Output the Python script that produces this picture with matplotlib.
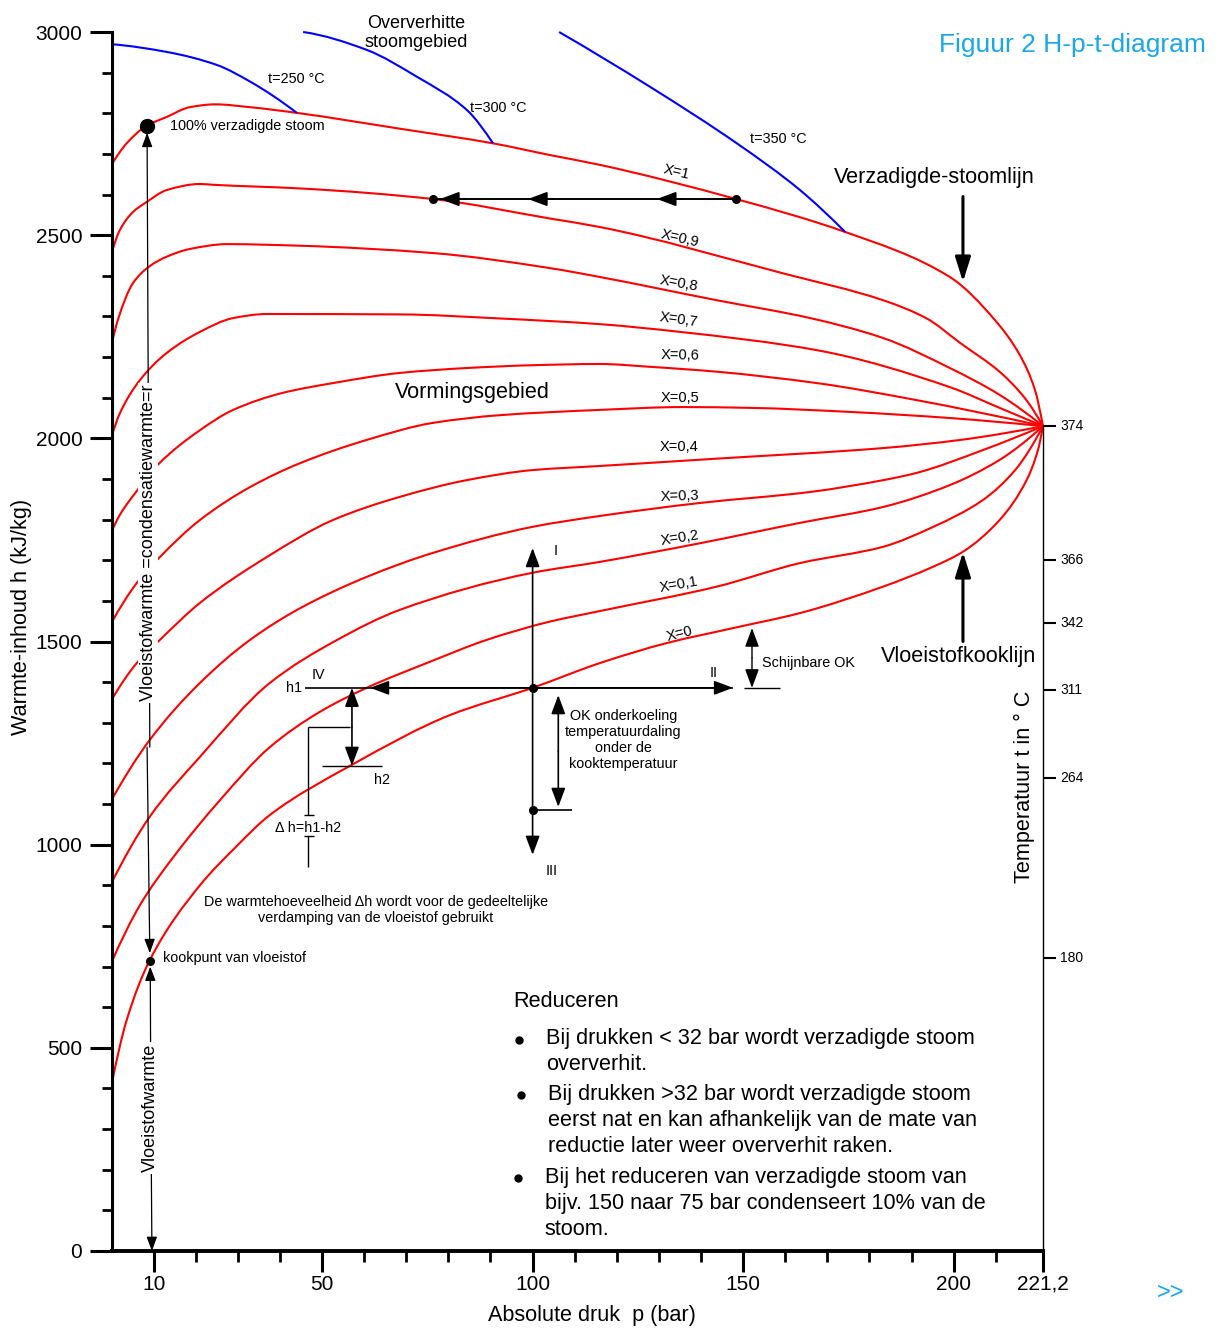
import numpy as np
import matplotlib
matplotlib.use('Agg')
import matplotlib.pyplot as plt
from matplotlib.path import Path
from matplotlib.patches import PathPatch

plt.rcParams['font.family'] = ['Liberation Sans', 'DejaVu Sans']

# ---------------- data (pressure in bar, enthalpy in kJ/kg) ----------------
X10_p = [0, 3.6, 8.3, 13.1, 18.6, 24.6, 32.9, 44.0, 68.5, 90.6, 104.2, 116.0, 148.3, 174.2, 199.1, 209.8, 215.7, 219.3, 221.2]
X10_h = [2673, 2726, 2769, 2791, 2815, 2822, 2815, 2801, 2762, 2726, 2697, 2673, 2589, 2508, 2397, 2291, 2205, 2119, 2030]

X09_p = [0, 2.0, 5.1, 8.4, 13.1, 21.0, 24.1, 44.8, 76.3, 104.1, 116.0, 159.5, 183.2, 193.6, 201.5, 211.0, 216.9, 221.2]
X09_h = [2455, 2513, 2557, 2582, 2611, 2626, 2624, 2615, 2589, 2541, 2520, 2406, 2340, 2295, 2235, 2163, 2099, 2030]

X08_p = [0, 1.5, 5.1, 9.1, 13.1, 18.6, 27.4, 44.8, 76.3, 104.1, 116.0, 143.7, 165.9, 183.2, 199.1, 210.9, 221.2]
X08_h = [2230, 2291, 2382, 2424, 2447, 2466, 2478, 2474, 2456, 2419, 2397, 2340, 2296, 2247, 2173, 2107, 2030]

X07_p = [0, 2.0, 6.8, 13.1, 21.0, 28.9, 36.9, 68.5, 92.2, 116.0, 135.0, 167.5, 199.1, 210.9, 221.2]
X07_h = [2004, 2062, 2144, 2210, 2262, 2296, 2306, 2305, 2295, 2281, 2262, 2217, 2126, 2075, 2030]

X06_p = [0, 2.0, 5.9, 11.0, 21.0, 28.9, 40.7, 52.6, 68.5, 84.3, 100.1, 116.0, 127.9, 143.7, 167.5, 191.2, 221.2]
X06_h = [1770, 1812, 1869, 1935, 2020, 2070, 2112, 2136, 2161, 2173, 2180, 2183, 2176, 2164, 2136, 2094, 2030]

X05_p = [0, 6.0, 11.5, 21.0, 32.9, 44.8, 60.6, 76.3, 92.2, 116.0, 135.7, 151.6, 175.4, 199.1, 221.2]
X05_h = [1546, 1644, 1708, 1799, 1880, 1939, 1996, 2038, 2057, 2070, 2077, 2075, 2065, 2050, 2030]

X04_p = [0, 6.0, 11.5, 21.0, 36.9, 52.6, 68.5, 84.3, 100.1, 116.0, 143.7, 183.2, 201.5, 221.2]
X04_h = [1356, 1447, 1504, 1595, 1708, 1799, 1856, 1897, 1922, 1932, 1950, 1976, 1996, 2030]

X03_p = [0, 9.1, 21.0, 32.9, 44.8, 60.6, 76.3, 99.9, 116.0, 139.8, 165.9, 183.2, 191.2, 206.9, 221.2]
X03_h = [1110, 1258, 1398, 1504, 1582, 1659, 1718, 1782, 1809, 1841, 1868, 1897, 1915, 1971, 2030]

X02_p = [0, 9.1, 21.0, 37.6, 53.6, 68.5, 99.9, 116.0, 139.8, 163.5, 183.2, 199.1, 210.9, 221.2]
X02_h = [906, 1069, 1216, 1398, 1504, 1578, 1669, 1696, 1742, 1792, 1831, 1885, 1947, 2030]

X01_p = [0, 6.8, 15.1, 25.8, 37.6, 49.5, 60.6, 75.6, 89.1, 104.1, 116.0, 143.7, 163.5, 183.2, 195.1, 206.9, 214.6, 221.2]
X01_h = [710, 852, 975, 1110, 1240, 1327, 1386, 1450, 1504, 1549, 1575, 1635, 1693, 1733, 1782, 1848, 1922, 2030]

X00_p = [0, 3.6, 9.1, 21.0, 29.3, 37.6, 57.0, 80.4, 100.0, 116.0, 131.8, 147.6, 163.5, 183.2, 195.1, 202.2, 210.9, 217.3, 220.0, 221.2]
X00_h = [409, 568, 716, 900, 992, 1073, 1196, 1319, 1386, 1447, 1496, 1533, 1570, 1635, 1684, 1721, 1799, 1897, 1971, 2030]

quality_labels = ['X=1', 'X=0,9', 'X=0,8', 'X=0,7', 'X=0,6', 'X=0,5', 'X=0,4', 'X=0,3', 'X=0,2', 'X=0,1', 'X=0']

# isotherms in superheated region
T250_p = [0, 13.1, 25.0, 32.9, 44.0]
T250_h = [2970, 2951, 2919, 2878, 2801]
T300_p = [45.5, 60.6, 72.5, 84.4, 90.6]
T300_h = [3000, 2956, 2890, 2808, 2726]
T350_p = [106.3, 127.9, 148.5, 163.5, 174.2]
T350_h = [3000, 2865, 2726, 2611, 2508]
isotherm_labels = ['t=250 °C', 't=300 °C', 't=350 °C']

# temperature scale on the critical-pressure line
temp_vals = [374, 366, 342, 311, 264, 180]
temp_h = [2030, 1700, 1546, 1381, 1164, 721]

# axis ticks
y_major = [0, 500, 1000, 1500, 2000, 2500, 3000]
y_minor = list(range(0, 3001, 100))
x_major = [10, 50, 100, 150, 200, 221.2]
x_major_labels = ['10', '50', '100', '150', '200', '221,2']
x_minor = [20, 30, 40, 60, 70, 80, 90, 110, 120, 130, 140, 160, 170, 180, 190, 210]

# ---------------- figure ----------------
W, H = 1219, 1328
PX_BAR, PX_KJ = 4.211, 0.40633
fig = plt.figure(figsize=(W / 100, H / 100), dpi=100)
ax = fig.add_axes([111.5 / W, 77 / H, (W - 111.5) / W, 1251 / H])
ax.set_xlim(0, (W - 111.5) / PX_BAR)
ax.set_ylim(0, 1251 / PX_KJ)

for s in ['top', 'right']:
    ax.spines[s].set_visible(False)
ax.spines['left'].set_bounds(0, 3000)
ax.spines['left'].set_linewidth(2.2)
ax.spines['bottom'].set_bounds(0, 221.2)
ax.spines['bottom'].set_linewidth(2.8)

ax.set_yticks(y_major)
ax.set_yticks(y_minor, minor=True)
ax.set_xticks(x_major, labels=x_major_labels)
ax.set_xticks(x_minor, minor=True)
ax.tick_params(axis='y', which='major', length=16, width=2.2, labelsize=15, pad=5)
ax.tick_params(axis='y', which='minor', length=7.5, width=2)
ax.tick_params(axis='x', which='major', length=15, width=2.2, labelsize=15, pad=2)
ax.tick_params(axis='x', which='minor', length=8, width=2)

fig.text(22 / W, 1 - 617 / H, 'Warmte-inhoud h (kJ/kg)', rotation=90, ha='center', va='center', fontsize=15.6)
fig.text(592 / W, 1 - 1316 / H, 'Absolute druk  p (bar)', ha='center', va='center', fontsize=15.6)


def smooth_curve(p, h, color, lw):
    """Draw a shape-preserving (monotone cubic) Bezier path through the read points."""
    x = np.asarray(p, float)
    y = np.asarray(h, float)
    n = len(x)
    hk = np.diff(x)
    dk = np.diff(y) / hk
    m = np.zeros(n)
    for k in range(1, n - 1):
        if dk[k - 1] * dk[k] <= 0:
            m[k] = 0.0
        else:
            w1 = 2 * hk[k] + hk[k - 1]
            w2 = hk[k] + 2 * hk[k - 1]
            m[k] = (w1 + w2) / (w1 / dk[k - 1] + w2 / dk[k])

    def end_slope(h0, h1, d0, d1):
        s = ((2 * h0 + h1) * d0 - h0 * d1) / (h0 + h1)
        if np.sign(s) != np.sign(d0):
            s = 0.0
        elif np.sign(d0) != np.sign(d1) and abs(s) > abs(3 * d0):
            s = 3 * d0
        return s

    if n > 2:
        m[0] = end_slope(hk[0], hk[1], dk[0], dk[1])
        m[-1] = end_slope(hk[-1], hk[-2], dk[-1], dk[-2])
    else:
        m[0] = m[-1] = dk[0]
    verts = [(x[0], y[0])]
    codes = [Path.MOVETO]
    for k in range(n - 1):
        d = hk[k] / 3
        verts += [(x[k] + d, y[k] + m[k] * d), (x[k + 1] - d, y[k + 1] - m[k + 1] * d), (x[k + 1], y[k + 1])]
        codes += [Path.CURVE4] * 3
    ax.add_patch(PathPatch(Path(verts, codes), facecolor='none', edgecolor=color, lw=lw,
                           zorder=2, capstyle='butt', joinstyle='round'))


# quality lines
qp = [X10_p, X09_p, X08_p, X07_p, X06_p, X05_p, X04_p, X03_p, X02_p, X01_p, X00_p]
qh = [X10_h, X09_h, X08_h, X07_h, X06_h, X05_h, X04_h, X03_h, X02_h, X01_h, X00_h]
for p, h in zip(qp, qh):
    smooth_curve(p, h, '#FF0000', 1.5)

# quality labels
lab_h = [2655, 2493, 2382, 2291, 2205, 2099, 1979, 1858, 1755, 1639, 1518]
lab_p = [134.1, 135.0, 134.8, 134.8, 135.0, 135.0, 134.8, 135.0, 135.0, 134.8, 135.0]
lab_rot = [-13, -13, -10, -8, -1, 0, 0, 2, 9, 10, 14]
for txt, p, h, r in zip(quality_labels, lab_p, lab_h, lab_rot):
    ax.text(p, h, txt, fontsize=10.5, rotation=r, ha='center', va='center', zorder=4)

# isotherms
for p, h in [(T250_p, T250_h), (T300_p, T300_h), (T350_p, T350_h)]:
    smooth_curve(p, h, '#0000FF', 1.5)
ax.text(37.2, 2885, isotherm_labels[0], fontsize=10.4, ha='left', va='center')
ax.text(85.1, 2813, isotherm_labels[1], fontsize=10.4, ha='left', va='center')
ax.text(151.6, 2737, isotherm_labels[2], fontsize=10.4, ha='left', va='center')
ax.text(72.4, 2998, 'Oververhitte\nstoomgebied', fontsize=13, ha='center', va='center', linespacing=1.2)

# critical pressure line with temperature scale
ax.plot([221.2, 221.2], [0, 2030], color='black', lw=1.0, zorder=3)
for tv, th in zip(temp_vals, temp_h):
    ax.plot([221.2, 224.3], [th, th], color='black', lw=1.5, zorder=3, solid_capstyle='butt')
    ax.text(225.3, th, str(tv), fontsize=10, ha='left', va='center')
ax.text(216.9, 1142, 'Temperatuur t in ° C', rotation=90, fontsize=15.6, ha='center', va='center')

# title and navigation
ax.text(228.3, 2968, 'Figuur 2 H-p-t-diagram', color='#1AA7E8', fontsize=19, ha='center', va='center')
ax.text(251.4, -103, '>>', color='#1AA7E8', fontsize=17, ha='center', va='center', clip_on=False)


def arrow(x0, y0, x1, y1, style='-|>', lw=1.2, hl=11.5, hw=4.3):
    ax.annotate('', xy=(x1, y1), xytext=(x0, y0),
                arrowprops=dict(arrowstyle=f'{style},head_length={hl / 10},head_width={hw / 10}',
                                lw=lw, color='black', shrinkA=0, shrinkB=0, mutation_scale=10),
                zorder=5)


def line(xs, ys, lw=1.2):
    ax.plot(xs, ys, color='black', lw=lw, zorder=5, solid_capstyle='butt')


# throttling of saturated steam (constant h)
line([76.3, 148.3], [2589, 2589], lw=1.4)
for tip in [78.0, 98.9, 129.5]:
    arrow(tip + 6, 2589, tip, 2589, lw=1.4)
ax.plot([76.3, 148.3], [2589, 2589], 'o', color='black', ms=5.5, zorder=6)

# labelled arrows
ax.text(195.3, 2641, 'Verzadigde-stoomlijn', fontsize=15.6, ha='center', va='center')
arrow(202.2, 2595, 202.2, 2385, lw=2.2, hl=15, hw=4.7)
ax.text(201.1, 1462, 'Vloeistofkooklijn', fontsize=15.6, ha='center', va='center')
arrow(202.2, 1500, 202.2, 1720, lw=2.2, hl=15, hw=4.7)
ax.text(85.8, 2112, 'Vormingsgebied', fontsize=15.6, ha='center', va='center')

# 100 % saturated steam point and boiling point
ax.plot([8.4], [2769], 'o', color='black', ms=10, zorder=6)
ax.text(13.9, 2769, '100% verzadigde stoom', fontsize=10.4, ha='left', va='center')
ax.plot([9.1], [714], 'o', color='black', ms=5.5, zorder=6)
ax.text(12.2, 721, 'kookpunt van vloeistof', fontsize=10.4, ha='left', va='center')
arrow(9.1, 1240, 8.45, 2752, lw=0.9, hl=8.6, hw=3.2)
arrow(8.45, 1240, 9.1, 733, lw=0.9, hl=8.6, hw=3.2)
arrow(9.35, 350, 9.2, 700, lw=0.9, hl=8.6, hw=3.2)
arrow(9.35, 350, 9.6, 0, lw=0.9, hl=8.6, hw=3.2)
ax.text(8.75, 1742, 'Vloeistofwarmte =condensatiewarmte=r', rotation=90, fontsize=13,
        ha='center', va='center', zorder=7,
        bbox=dict(facecolor='white', edgecolor='none', pad=1.2))
ax.text(9.3, 352, 'Vloeistofwarmte', rotation=90, fontsize=13, ha='center', va='center', zorder=7,
        bbox=dict(facecolor='white', edgecolor='none', pad=1.2))

# pressure-change cross at 100 bar on the boiling line
line([45.9, 147.6], [1386, 1386])
arrow(100, 1386, 61.4, 1386)
arrow(100, 1386, 147.6, 1386)
arrow(100, 1386, 100, 1730)
arrow(100, 1386, 100, 975)
ax.plot([100, 100], [1386, 1085], 'o', color='black', ms=5.5, zorder=6)
line([100, 109.4], [1085, 1085])
arrow(106.1, 1230, 106.1, 1368, lw=1.2)
arrow(106.1, 1230, 106.1, 1093, lw=1.2)
ax.text(105.4, 1723, 'I', fontsize=10.4, ha='center', va='center')
ax.text(143.1, 1422, 'II', fontsize=10.4, ha='center', va='center')
ax.text(104.5, 934, 'III', fontsize=10.4, ha='center', va='center')
ax.text(49.1, 1418, 'IV', fontsize=10.4, ha='center', va='center')
ax.text(121.5, 1258, 'OK onderkoeling\ntemperatuurdaling\nonder de\nkooktemperatuur',
        fontsize=10.4, ha='center', va='center', linespacing=1.2)

# apparent subcooling
arrow(152.1, 1460, 152.1, 1533, lw=1.0)
arrow(152.1, 1460, 152.1, 1386, lw=1.0)
line([150.2, 158.8], [1386, 1386], lw=1.0)
ax.text(154.5, 1447, 'Schijnbare OK', fontsize=10.4, ha='left', va='center')

# h1 / h2 construction
ax.text(43.4, 1386, 'h1', fontsize=10.4, ha='center', va='center')
line([49.9, 64.2], [1194, 1194], lw=1.0)
ax.text(64.2, 1159, 'h2', fontsize=10.4, ha='center', va='center')
arrow(57.1, 1290, 57.1, 1386, lw=1.2)
arrow(57.1, 1290, 57.1, 1194, lw=1.2)
line([46.7, 56.6], [1289, 1289], lw=1.0)
line([46.7, 46.7], [1289, 1073], lw=1.0)
line([45.8, 48.0], [1073, 1073], lw=1.0)
ax.text(46.7, 1042, 'Δ h=h1-h2', fontsize=10.4, ha='center', va='center')
line([45.8, 48.0], [1021, 1021], lw=1.0)
line([46.7, 46.7], [1021, 946], lw=1.0)
ax.text(62.8, 840, 'De warmtehoeveelheid Δh wordt voor de gedeeltelijke\nverdamping van de vloeistof gebruikt',
        fontsize=10.4, ha='center', va='center', linespacing=1.2)

# text block
ax.text(95.4, 615, 'Reduceren', fontsize=15.6, ha='left', va='center')
block = [
    (103.2, 522, 'Bij drukken < 32 bar wordt verzadigde stoom'),
    (103.2, 458, 'oververhit.'),
    (103.7, 386, 'Bij drukken >32 bar wordt verzadigde stoom'),
    (103.7, 322, 'eerst nat en kan afhankelijk van de mate van'),
    (103.7, 258, 'reductie later weer oververhit raken.'),
    (102.9, 182, 'Bij het reduceren van verzadigde stoom van'),
    (102.9, 118, 'bijv. 150 naar 75 bar condenseert 10% van de'),
    (102.9, 54, 'stoom.'),
]
for bx, by, bt in block:
    ax.text(bx, by, bt, fontsize=15.6, ha='left', va='center')
ax.plot([96.8, 97.2, 96.5], [519, 384, 180], 'o', color='black', ms=5)

fig.savefig('out.png', dpi=100)
